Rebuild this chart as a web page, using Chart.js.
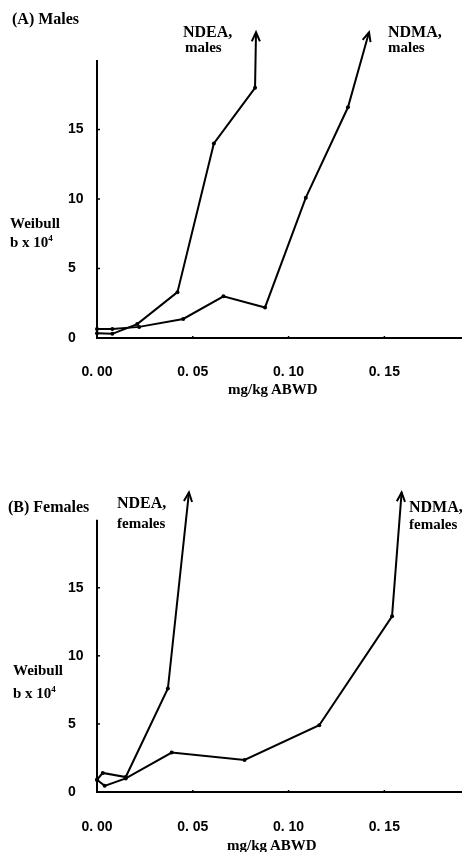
<!DOCTYPE html>
<html>
<head>
<meta charset="utf-8">
<script src="https://cdn.jsdelivr.net/npm/chart.js@4.4.1/dist/chart.umd.min.js"></script>
<style>
  html, body { margin: 0; padding: 0; background: #fff; }
  #page { position: relative; width: 465px; height: 852px; overflow: hidden; background: #fff; }
  canvas { position: absolute; left: 0; }
  .lbl { position: absolute; font-family: "Liberation Serif", "Times New Roman", serif; font-weight: bold; color: #000; white-space: nowrap; line-height: 16px; }
  .lbl sup { font-size: 9px; line-height: 0; vertical-align: 6px; }
</style>
</head>
<body>
<div id="page">
  <canvas id="c1" width="465" height="426" style="top:0px"></canvas>
  <canvas id="c2" width="465" height="426" style="top:426px"></canvas>

  <div class="lbl" style="left:12px; top:11px; font-size:16px;">(A) Males</div>
  <div class="lbl" style="left:183px; top:24px; font-size:16px;">NDEA,</div>
  <div class="lbl" style="left:185px; top:39px; font-size:15px;">males</div>
  <div class="lbl" style="left:388px; top:24px; font-size:16px;">NDMA,</div>
  <div class="lbl" style="left:388px; top:39px; font-size:15px;">males</div>
  <div class="lbl" style="left:10px; top:215px; font-size:15px;">Weibull</div>
  <div class="lbl" style="left:10px; top:234px; font-size:15px;">b x 10<sup>4</sup></div>
  <div class="lbl" style="left:228px; top:381px; font-size:15px;">mg/kg ABWD</div>

  <div class="lbl" style="left:8px; top:499px; font-size:16px;">(B) Females</div>
  <div class="lbl" style="left:117px; top:495px; font-size:16px;">NDEA,</div>
  <div class="lbl" style="left:117px; top:515px; font-size:15px;">females</div>
  <div class="lbl" style="left:409px; top:499px; font-size:16px;">NDMA,</div>
  <div class="lbl" style="left:409px; top:516px; font-size:15px;">females</div>
  <div class="lbl" style="left:13px; top:662px; font-size:15px;">Weibull</div>
  <div class="lbl" style="left:13px; top:685px; font-size:15px;">b x 10<sup>4</sup></div>
  <div class="lbl" style="left:227px; top:837px; font-size:15px;">mg/kg ABWD</div>
</div>

<script>
// ---- data ----
const xTicks = [0, 0.05, 0.10, 0.15];
const xTickLabels = ["0. 00", "0. 05", "0. 10", "0. 15"];
const yTicks = [0, 5, 10, 15];
const yTickLabels = ["0", "5", "10", "15"];
const xMin = 0, xMax = 0.19;
const yMin = 0, yMax = 23.5, yAxisTop = 20;

// (A) Males
const ndeaMalesX = [0, 0.008, 0.021, 0.042, 0.061, 0.0825, 0.083];
const ndeaMalesY = [0.35, 0.3, 1.0, 3.3, 14.0, 18.0, 22.0];
const ndmaMalesX = [0, 0.008, 0.022, 0.045, 0.066, 0.0877, 0.109, 0.131, 0.142];
const ndmaMalesY = [0.65, 0.65, 0.8, 1.37, 3.0, 2.2, 10.1, 16.6, 22.0];

// (B) Females
const ndeaFemalesX = [0, 0.003, 0.015, 0.037, 0.048];
const ndeaFemalesY = [0.9, 1.4, 1.1, 7.6, 22.0];
const ndmaFemalesX = [0, 0.004, 0.015, 0.039, 0.077, 0.116, 0.154, 0.159];
const ndmaFemalesY = [0.9, 0.45, 1.0, 2.9, 2.35, 4.9, 12.9, 22.0];

// ---- helpers ----
function pts(xs, ys) { return xs.map((x, i) => ({ x: x, y: ys[i] })); }
function radii(n) { const r = new Array(n).fill(2); r[n - 1] = 0; return r; }

const axisPlugin = {
  id: 'axisPlugin',
  afterDatasetsDraw(chart) {
    const ctx = chart.ctx, xs = chart.scales.x, ys = chart.scales.y;
    const x0 = xs.getPixelForValue(0), y0 = ys.getPixelForValue(0);
    ctx.save();
    ctx.strokeStyle = '#000';
    ctx.lineWidth = 2;
    ctx.beginPath();
    ctx.moveTo(x0, y0 + 1);
    ctx.lineTo(x0, ys.getPixelForValue(yAxisTop));
    ctx.stroke();
    ctx.lineWidth = 1.5;
    yTicks.forEach(v => {
      if (v === 0) return;
      const py = ys.getPixelForValue(v);
      ctx.beginPath(); ctx.moveTo(x0, py); ctx.lineTo(x0 + 3, py); ctx.stroke();
    });
    xTicks.forEach(v => {
      if (v === 0) return;
      const px = xs.getPixelForValue(v);
      ctx.beginPath(); ctx.moveTo(px, y0 - 2); ctx.lineTo(px, y0 + 1); ctx.stroke();
    });
    // arrowheads at the end of each series
    ctx.lineWidth = 2;
    chart.data.datasets.forEach((ds, i) => {
      const el = chart.getDatasetMeta(i).data;
      const a = el[el.length - 2], b = el[el.length - 1];
      const ang = Math.atan2(b.y - a.y, b.x - a.x);
      const L = 10, spread = 0.42;
      ctx.beginPath();
      ctx.moveTo(b.x - L * Math.cos(ang - spread), b.y - L * Math.sin(ang - spread));
      ctx.lineTo(b.x, b.y);
      ctx.lineTo(b.x - L * Math.cos(ang + spread), b.y - L * Math.sin(ang + spread));
      ctx.stroke();
    });
    ctx.restore();
  }
};

function makeChart(id, sets, padTop, xAxisH, xLabelPad) {
  return new Chart(document.getElementById(id), {
    type: 'line',
    data: {
      datasets: sets.map(s => ({
        label: s.label,
        data: pts(s.x, s.y),
        borderColor: '#000',
        backgroundColor: '#000',
        borderWidth: 2,
        pointRadius: radii(s.x.length),
        pointBorderWidth: 0,
        tension: 0,
        fill: false,
        clip: false
      }))
    },
    options: {
      responsive: false,
      animation: false,
      devicePixelRatio: 1,
      layout: { padding: { left: 68, right: 0, top: padTop, bottom: 0 } },
      plugins: { legend: { display: false }, tooltip: { enabled: false } },
      scales: {
        x: {
          type: 'linear', min: xMin, max: xMax,
          grid: { display: false },
          border: { display: true, color: '#000', width: 2 },
          afterBuildTicks: sc => { sc.ticks = xTicks.map(v => ({ value: v })); },
          afterFit: sc => { sc.height = xAxisH; },
          ticks: {
            color: '#000', padding: xLabelPad, maxRotation: 0, autoSkip: false,
            font: { family: 'Liberation Sans', weight: 'bold', size: 14 },
            callback: (v) => xTickLabels[xTicks.indexOf(v)]
          }
        },
        y: {
          type: 'linear', min: yMin, max: yMax,
          grid: { display: false },
          border: { display: false },
          afterBuildTicks: sc => { sc.ticks = yTicks.map(v => ({ value: v })); },
          afterFit: sc => { sc.width = 29; },
          ticks: {
            color: '#000', crossAlign: 'far', autoSkip: false,
            font: { family: 'Liberation Sans', weight: 'bold', size: 14 },
            callback: (v) => yTickLabels[yTicks.indexOf(v)]
          }
        }
      }
    },
    plugins: [axisPlugin]
  });
}

makeChart('c1', [
  { label: 'NDEA, males', x: ndeaMalesX, y: ndeaMalesY },
  { label: 'NDMA, males', x: ndmaMalesX, y: ndmaMalesY }
], 11, 88, 18);

makeChart('c2', [
  { label: 'NDEA, females', x: ndeaFemalesX, y: ndeaFemalesY },
  { label: 'NDMA, females', x: ndmaFemalesX, y: ndmaFemalesY }
], 46, 60, 19);
</script>
</body>
</html>
